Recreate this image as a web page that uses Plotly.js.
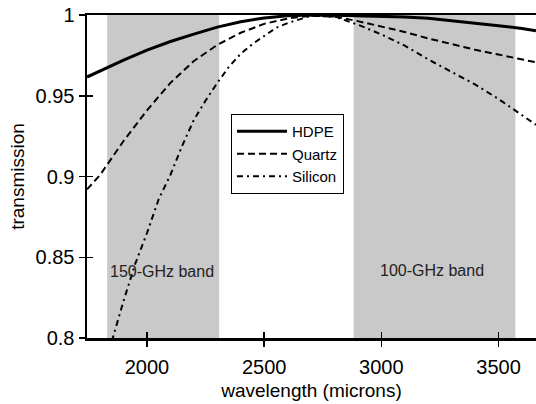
<!DOCTYPE html>
<html>
<head>
<meta charset="utf-8">
<script src="https://cdn.plot.ly/plotly-3.0.1.min.js"></script>
<style>html,body{margin:0;padding:0;background:#fff;}#chart{width:536px;height:404px;}</style>
</head>
<body>
<div id="chart"></div>
<script>
// wavelength (microns)
var wavelength = [1744,1800,1900,2000,2100,2200,2300,2400,2500,2600,2700,2800,2900,3000,3100,3200,3300,3400,3500,3600,3660];
var hdpe   = [0.9616,0.9655,0.9720,0.9782,0.9836,0.9882,0.9925,0.9958,0.9982,0.9995,1.0,0.9999,0.9996,0.9993,0.9988,0.9980,0.9966,0.9950,0.9934,0.9916,0.9903];
var quartz = [0.892,0.901,0.922,0.941,0.958,0.9715,0.9815,0.9890,0.9945,0.9978,0.9996,0.9990,0.9962,0.9930,0.9895,0.9855,0.9818,0.9785,0.9755,0.9725,0.9707];
var siliconWavelength = [1850,1900,1950,2000,2050,2100,2150,2200,2250,2300,2350,2400,2450,2500,2550,2600,2700,2800,2900,3000,3100,3200,3300,3400,3500,3600,3660];
var silicon = [0.798,0.823,0.846,0.865,0.886,0.901,0.919,0.935,0.947,0.958,0.968,0.976,0.982,0.987,0.992,0.995,0.9995,0.999,0.994,0.988,0.981,0.9725,0.965,0.957,0.948,0.938,0.932];

var bandNames = ["150-GHz band","100-GHz band"];
var bandStart = [1830,2882];
var bandEnd   = [2308,3572];
var bandLabelX = [2066,3215];
var bandLabelY = [0.841,0.842];

var xTicks = [2000,2500,3000,3500];
var yTicks = [0.8,0.85,0.9,0.95,1];
var yTickText = ["0.8","0.85","0.9","0.95","1"];
var xRange = [1744,3660];
var yRange = [0.8,1.0];

var FONT = "Liberation Sans, Arial, Helvetica, sans-serif";

var traces = [
  {x: wavelength, y: hdpe, name: "HDPE", mode: "lines", line: {color: "#000", width: 3}},
  {x: wavelength, y: quartz, name: "Quartz", mode: "lines", line: {color: "#000", width: 2, dash: "7px,4px"}},
  {x: siliconWavelength, y: silicon, name: "Silicon", mode: "lines", line: {color: "#000", width: 2, dash: "6px,4px,2px,4px"}},
  {x: [], y: [], xaxis: "x2", yaxis: "y2", showlegend: false, hoverinfo: "skip", mode: "lines"}
];

var shapes = bandStart.map(function(s, i){
  return {type: "rect", xref: "x", yref: "paper", x0: s, x1: bandEnd[i], y0: 0, y1: 1,
          fillcolor: "#c9c9c9", line: {width: 0}, layer: "below"};
});

var annotations = bandNames.map(function(t, i){
  return {x: bandLabelX[i], y: bandLabelY[i], xref: "x", yref: "y", text: t, showarrow: false,
          font: {family: FONT, size: 16, color: "#222"}};
});

var layout = {
  width: 536, height: 404,
  margin: {l: 87, r: 0, t: 15, b: 66},
  paper_bgcolor: "#fff", plot_bgcolor: "#fff",
  font: {family: FONT, color: "#000"},
  showlegend: true,
  legend: {x: 0.3207, y: 0.6935, xanchor: "left", yanchor: "top", bgcolor: "#fff", itemwidth: 50,
           bordercolor: "#000", borderwidth: 1, font: {family: FONT, size: 15, color: "#000"}},
  xaxis: {range: xRange, tickvals: xTicks, ticktext: xTicks.map(String), ticks: "outside", ticklen: 6, tickwidth: 1.5,
          tickcolor: "#000", showline: true, linecolor: "#000", linewidth: 2.5, mirror: true, ticklabelstandoff: 3,
          showgrid: false, zeroline: false, tickfont: {family: FONT, size: 20},
          title: {text: "wavelength (microns)", font: {family: FONT, size: 19}, standoff: 7}},
  yaxis: {range: yRange, tickvals: yTicks, ticktext: yTickText, ticks: "outside", ticklen: 6, tickwidth: 1.5,
          tickcolor: "#000", showline: true, linecolor: "#000", linewidth: 2.5,
          showgrid: false, zeroline: false, tickfont: {family: FONT, size: 20},
          title: {text: "transmission", font: {family: FONT, size: 19}, standoff: 6}},
  xaxis2: {range: xRange, overlaying: "x", anchor: "y2", tickvals: xTicks, ticks: "inside", ticklen: 6, tickwidth: 1.5,
           tickcolor: "#000", showticklabels: false, showline: false, showgrid: false, zeroline: false},
  yaxis2: {range: yRange, overlaying: "y", anchor: "x2", tickvals: yTicks, ticks: "inside", ticklen: 6, tickwidth: 1.5,
           tickcolor: "#000", showticklabels: false, showline: false, showgrid: false, zeroline: false},
  shapes: shapes,
  annotations: annotations
};

Plotly.newPlot("chart", traces, layout, {staticPlot: true, displayModeBar: false});
</script>
</body>
</html>
